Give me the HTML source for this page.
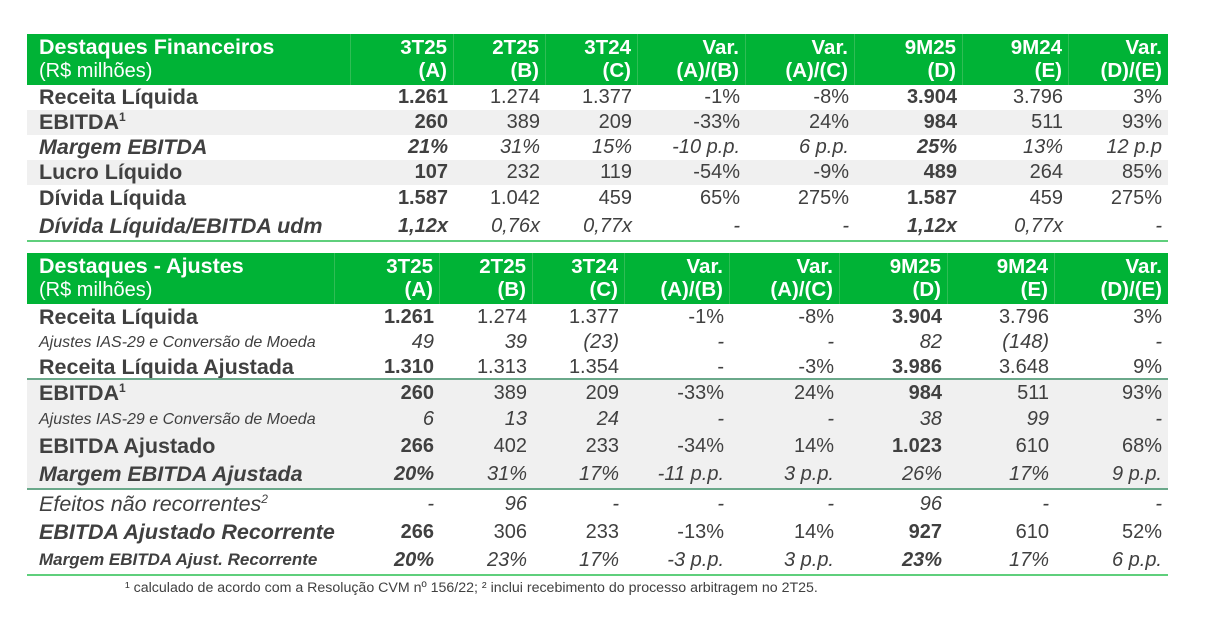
<!DOCTYPE html>
<html><head><meta charset="utf-8"><style>
body{margin:0;width:1207px;height:619px;background:#fff;font-family:"Liberation Sans",Arial,sans-serif;color:#404040;position:relative;overflow:hidden}
.r{position:absolute;left:27px;width:1141px;display:flex;align-items:center}
.r div{box-sizing:border-box;text-align:right;padding-right:6px;white-space:nowrap}
.h{background:#00b336;color:#fff;font-weight:bold;font-size:20.5px;line-height:23px;align-items:stretch}
.h div{border-right:1px solid #2fbd55;padding-top:2px}
.h div:last-child{border-right:none}
.h .l{text-align:left;padding-left:12px;font-size:21.5px}
.h .l span{font-weight:normal;font-size:20px}
.l{text-align:left!important;padding-left:12px;font-size:21.5px}
.g{background:#f0f0f0}
.b{font-weight:bold}.i{font-style:italic}
.f{font-size:20px}
.l.s{font-size:16px}
.line{position:absolute;left:27px;width:1141px;height:2px;background:#5fcf7c}
.t1 div:nth-child(1){width:324px}.t1 div:nth-child(2){width:103px}.t1 div:nth-child(3){width:92px}.t1 div:nth-child(4){width:92px}.t1 div:nth-child(5){width:108px}.t1 div:nth-child(6){width:109px}.t1 div:nth-child(7){width:108px}.t1 div:nth-child(8){width:106px}.t1 div:nth-child(9){width:99px}
.t2 div:nth-child(1){width:308px}.t2 div:nth-child(2){width:105px}.t2 div:nth-child(3){width:93px}.t2 div:nth-child(4){width:92px}.t2 div:nth-child(5){width:105px}.t2 div:nth-child(6){width:110px}.t2 div:nth-child(7){width:108px}.t2 div:nth-child(8){width:107px}.t2 div:nth-child(9){width:113px}
sup{font-size:12px;line-height:0}
</style></head><body>

<div class="r h t1" style="top:34px;height:51px"><div class="l">Destaques Financeiros<br><span>(R$ milhões)</span></div><div>3T25<br>(A)</div><div>2T25<br>(B)</div><div>3T24<br>(C)</div><div>Var.<br>(A)/(B)</div><div>Var.<br>(A)/(C)</div><div>9M25<br>(D)</div><div>9M24<br>(E)</div><div>Var.<br>(D)/(E)</div></div>
<div class="r t1 f" style="top:85px;height:25px"><div class="l b">Receita Líquida</div><div class="b">1.261</div><div>1.274</div><div>1.377</div><div>-1%</div><div>-8%</div><div class="b">3.904</div><div>3.796</div><div>3%</div></div>
<div class="r t1 f g" style="top:110px;height:25px"><div class="l b">EBITDA<sup>1</sup></div><div class="b">260</div><div>389</div><div>209</div><div>-33%</div><div>24%</div><div class="b">984</div><div>511</div><div>93%</div></div>
<div class="r t1 f i" style="top:135px;height:25px"><div class="l b">Margem EBITDA</div><div class="b">21%</div><div>31%</div><div>15%</div><div>-10 p.p.</div><div>6 p.p.</div><div class="b">25%</div><div>13%</div><div>12 p.p</div></div>
<div class="r t1 f g" style="top:160px;height:25px"><div class="l b">Lucro Líquido</div><div class="b">107</div><div>232</div><div>119</div><div>-54%</div><div>-9%</div><div class="b">489</div><div>264</div><div>85%</div></div>
<div class="r t1 f" style="top:185px;height:27px"><div class="l b">Dívida Líquida</div><div class="b">1.587</div><div>1.042</div><div>459</div><div>65%</div><div>275%</div><div class="b">1.587</div><div>459</div><div>275%</div></div>
<div class="r t1 f i" style="top:212px;height:28px"><div class="l b">Dívida Líquida/EBITDA udm</div><div class="b">1,12x</div><div>0,76x</div><div>0,77x</div><div>-</div><div>-</div><div class="b">1,12x</div><div>0,77x</div><div>-</div></div>
<div class="line" style="top:240px"></div>

<div class="r h t2" style="top:253px;height:51px"><div class="l">Destaques - Ajustes<br><span>(R$ milhões)</span></div><div>3T25<br>(A)</div><div>2T25<br>(B)</div><div>3T24<br>(C)</div><div>Var.<br>(A)/(B)</div><div>Var.<br>(A)/(C)</div><div>9M25<br>(D)</div><div>9M24<br>(E)</div><div>Var.<br>(D)/(E)</div></div>
<div class="r t2 f" style="top:304px;height:26px"><div class="l b">Receita Líquida</div><div class="b">1.261</div><div>1.274</div><div>1.377</div><div>-1%</div><div>-8%</div><div class="b">3.904</div><div>3.796</div><div>3%</div></div>
<div class="r t2 f i" style="top:330px;height:25px"><div class="l s">Ajustes IAS-29 e Conversão de Moeda</div><div>49</div><div>39</div><div>(23)</div><div>-</div><div>-</div><div>82</div><div>(148)</div><div>-</div></div>
<div class="r t2 f" style="top:355px;height:24px"><div class="l b">Receita Líquida Ajustada</div><div class="b">1.310</div><div>1.313</div><div>1.354</div><div>-</div><div>-3%</div><div class="b">3.986</div><div>3.648</div><div>9%</div></div>
<div class="line" style="top:378px;background:#6aa88a"></div>
<div style="position:absolute;left:27px;top:380px;width:1141px;height:108px;background:#f0f0f0"></div>
<div class="r t2 f" style="top:380px;height:27px"><div class="l b">EBITDA<sup>1</sup></div><div class="b">260</div><div>389</div><div>209</div><div>-33%</div><div>24%</div><div class="b">984</div><div>511</div><div>93%</div></div>
<div class="r t2 f i" style="top:407px;height:25px"><div class="l s">Ajustes IAS-29 e Conversão de Moeda</div><div>6</div><div>13</div><div>24</div><div>-</div><div>-</div><div>38</div><div>99</div><div>-</div></div>
<div class="r t2 f" style="top:432px;height:28px"><div class="l b">EBITDA Ajustado</div><div class="b">266</div><div>402</div><div>233</div><div>-34%</div><div>14%</div><div class="b">1.023</div><div>610</div><div>68%</div></div>
<div class="r t2 f i" style="top:460px;height:28px"><div class="l b">Margem EBITDA Ajustada</div><div class="b">20%</div><div>31%</div><div>17%</div><div>-11 p.p.</div><div>3 p.p.</div><div>26%</div><div>17%</div><div>9 p.p.</div></div>
<div class="line" style="top:488px;background:#6aa88a"></div>
<div class="r t2 f i" style="top:490px;height:28px"><div class="l">Efeitos não recorrentes<sup>2</sup></div><div>-</div><div>96</div><div>-</div><div>-</div><div>-</div><div>96</div><div>-</div><div>-</div></div>
<div class="r t2 f" style="top:518px;height:28px"><div class="l b i">EBITDA Ajustado Recorrente</div><div class="b">266</div><div>306</div><div>233</div><div>-13%</div><div>14%</div><div class="b">927</div><div>610</div><div>52%</div></div>
<div class="r t2 f i" style="top:546px;height:28px"><div class="l b" style="font-size:17px">Margem EBITDA Ajust. Recorrente</div><div class="b">20%</div><div>23%</div><div>17%</div><div>-3 p.p.</div><div>3 p.p.</div><div class="b">23%</div><div>17%</div><div>6 p.p.</div></div>
<div class="line" style="top:574px"></div>
<div style="position:absolute;left:125px;top:580px;font-size:14.2px;color:#404040">¹ calculado de acordo com a Resolução CVM nº 156/22; ² inclui recebimento do processo arbitragem no 2T25.</div>
</body></html>
